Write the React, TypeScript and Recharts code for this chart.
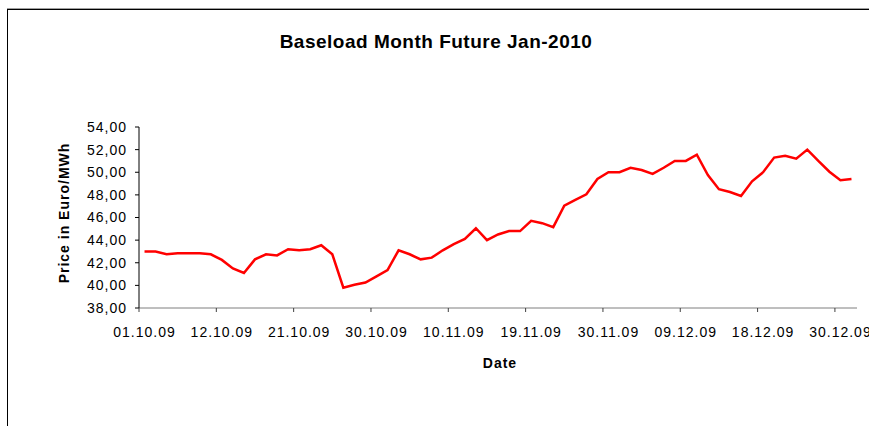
import { CartesianGrid, Label, Line, LineChart, XAxis, YAxis } from "recharts";

const DATES = [
  "01.10.09", "02.10.09", "05.10.09", "06.10.09", "07.10.09", "08.10.09", "09.10.09",
  "12.10.09", "13.10.09", "14.10.09", "15.10.09", "16.10.09", "19.10.09", "20.10.09",
  "21.10.09", "22.10.09", "23.10.09", "26.10.09", "27.10.09", "28.10.09", "29.10.09",
  "30.10.09", "02.11.09", "03.11.09", "04.11.09", "05.11.09", "06.11.09", "09.11.09",
  "10.11.09", "11.11.09", "12.11.09", "13.11.09", "16.11.09", "17.11.09", "18.11.09",
  "19.11.09", "20.11.09", "23.11.09", "24.11.09", "25.11.09", "26.11.09", "27.11.09",
  "30.11.09", "01.12.09", "02.12.09", "03.12.09", "04.12.09", "07.12.09", "08.12.09",
  "09.12.09", "10.12.09", "11.12.09", "14.12.09", "15.12.09", "16.12.09", "17.12.09",
  "18.12.09", "21.12.09", "22.12.09", "23.12.09", "24.12.09", "28.12.09", "29.12.09",
  "30.12.09", "31.12.09",
];

const PRICES = [
  43.0, 43.0, 42.75, 42.85, 42.85, 42.85, 42.75,
  42.25, 41.5, 41.1, 42.3, 42.75, 42.65, 43.2,
  43.1, 43.2, 43.55, 42.75, 39.8, 40.05, 40.25,
  40.8, 41.35, 43.1, 42.75, 42.3, 42.45, 43.1,
  43.65, 44.1, 45.05, 44.0, 44.5, 44.8, 44.8,
  45.7, 45.5, 45.15, 47.05, 47.55, 48.05, 49.4,
  50.0, 50.0, 50.4, 50.2, 49.85, 50.4, 51.0,
  51.0, 51.55, 49.75, 48.5, 48.25, 47.9, 49.2,
  50.0, 51.3, 51.45, 51.2, 52.0, 51.0, 50.05,
  49.3, 49.4,
];

const Y_TICKS = [38, 40, 42, 44, 46, 48, 50, 52, 54];

const TITLE = "Baseload Month Future Jan-2010";
const X_TITLE = "Date";
const Y_TITLE = "Price in Euro/MWh";

const data = DATES.map((date, i) => ({ date, price: PRICES[i] }));

const W = 869;
const H = 426;
const PLOT_TOP = 127;
const PLOT_BOTTOM = 308;
const PLOT_LEFT = 139;
const PLOT_RIGHT = 857;
const HALF_STEP = (PLOT_RIGHT - PLOT_LEFT) / DATES.length / 2;
const FONT = '"Liberation Sans", Arial, sans-serif';

const fmt = (v: number) => v.toFixed(2).replace(".", ",");

// excel style: tick marks sit between categories, label in the middle
function DateTick(props: any) {
  const { x, payload } = props;
  return (
    <g>
      <line
        x1={x - HALF_STEP}
        x2={x - HALF_STEP}
        y1={PLOT_BOTTOM}
        y2={PLOT_BOTTOM + 4}
        stroke="#404040"
      />
      <text x={x} y={PLOT_BOTTOM + 29} textAnchor="middle" fontSize={14} letterSpacing={1} fill="#000">
        {payload.value}
      </text>
    </g>
  );
}

export default function App() {
  return (
    <div style={{ position: "relative", width: W, height: H, overflow: "hidden", background: "#fff" }}>
      <style>{`body{margin:0}`}</style>
      <div
        style={{
          position: "absolute",
          left: 7,
          top: 9,
          width: 950,
          height: 500,
          border: "1px solid #000",
          boxShadow: "0 -1px 0 #a0a0a0",
        }}
      />
      <div
        style={{
          position: "absolute",
          left: 0,
          top: 31.5,
          width: 872,
          textAlign: "center",
          fontFamily: FONT,
          fontWeight: "bold",
          fontSize: 19,
          lineHeight: "19px",
          letterSpacing: 0.5,
          color: "#000",
        }}
      >
        {TITLE}
      </div>
      <div style={{ position: "absolute", left: 0, top: 0 }}>
        <LineChart
          width={W}
          height={H}
          data={data}
          margin={{ top: PLOT_TOP, right: W - PLOT_RIGHT, bottom: 0, left: 0 }}
          style={{ fontFamily: FONT }}
        >
          <CartesianGrid horizontal={false} vertical={false} />
          <XAxis
            dataKey="date"
            interval={6}
            height={H - PLOT_BOTTOM}
            padding={{ left: HALF_STEP, right: HALF_STEP }}
            tickLine={false}
            axisLine={{ stroke: "#7f7f7f" }}
            tick={<DateTick />}
          >
            <Label
              content={() => (
                <text
                  x={(PLOT_LEFT + PLOT_RIGHT) / 2 + 2}
                  y={368}
                  textAnchor="middle"
                  fontSize={14}
                  fontWeight="bold"
                  letterSpacing={1}
                  fill="#000"
                >
                  {X_TITLE}
                </text>
              )}
            />
          </XAxis>
          <YAxis
            width={PLOT_LEFT}
            domain={[38, 54]}
            ticks={Y_TICKS}
            interval={0}
            tickFormatter={fmt}
            tickSize={4}
            tickMargin={8}
            axisLine={{ stroke: "#000" }}
            tickLine={{ stroke: "#000" }}
            tick={{ fill: "#000", fontSize: 14, letterSpacing: 1 }}
          >
            <Label
              content={() => (
                <text
                  x={69}
                  y={213}
                  transform="rotate(-90 69 213)"
                  textAnchor="middle"
                  fontSize={14}
                  fontWeight="bold"
                  letterSpacing={1}
                  fill="#000"
                >
                  {Y_TITLE}
                </text>
              )}
            />
          </YAxis>
          <Line
            type="linear"
            dataKey="price"
            stroke="#ff0000"
            strokeWidth={2.5}
            dot={false}
            activeDot={false}
            isAnimationActive={false}
          />
        </LineChart>
      </div>
    </div>
  );
}
